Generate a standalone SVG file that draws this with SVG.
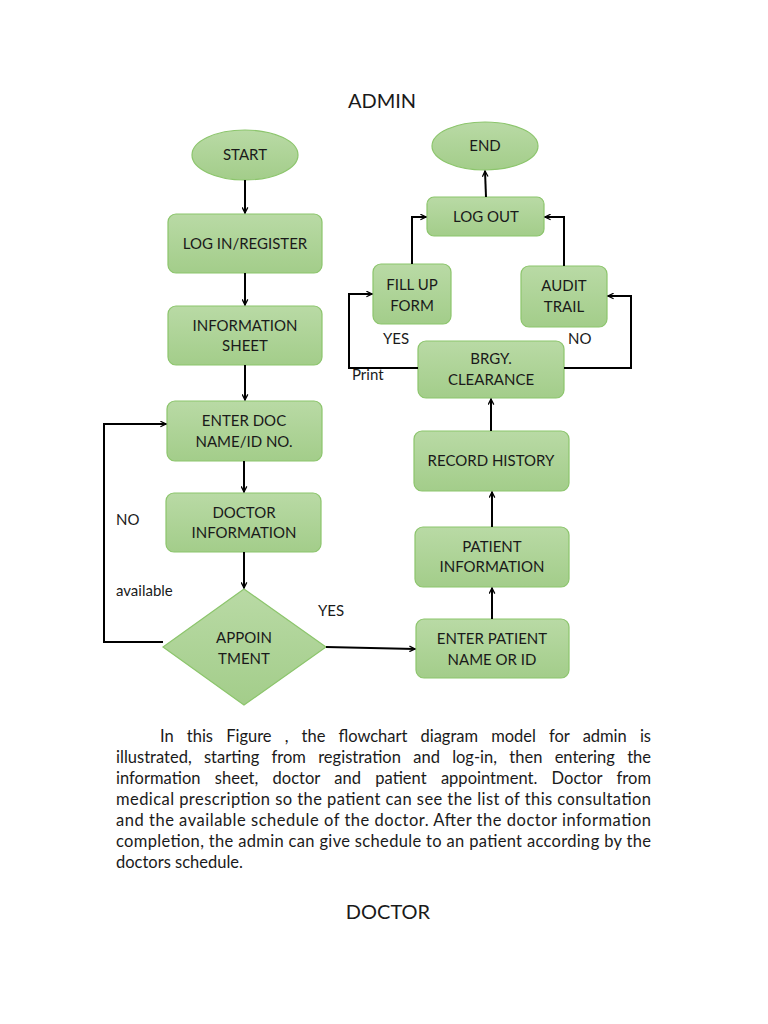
<svg xmlns="http://www.w3.org/2000/svg" width="768" height="1024" viewBox="0 0 768 1024">
<defs>
<linearGradient id="g" x1="0" y1="0" x2="0" y2="1">
<stop offset="0" stop-color="#b9daa5"/>
<stop offset="1" stop-color="#a3cd8a"/>
</linearGradient>
<marker id="ah" viewBox="0 0 10 10" refX="9" refY="5" markerWidth="7" markerHeight="7" orient="auto" markerUnits="userSpaceOnUse">
<path d="M1,1 L9,5 L1,9" fill="none" stroke="#000" stroke-width="1.8"/>
</marker>
</defs>
<style>
.n{fill:url(#g);stroke:#8cc56c;stroke-width:1.2}
.t{font-family:Lato,"Open Sans","Liberation Sans",sans-serif;font-size:15px;fill:#1a1a1a;text-anchor:middle}
.l{font-family:Lato,"Open Sans","Liberation Sans",sans-serif;font-size:15px;fill:#1a1a1a}
.c{fill:none;stroke:#000;stroke-width:2;marker-end:url(#ah)}
.p{font-family:Lato,"Open Sans","Liberation Sans",sans-serif;font-size:16.5px;fill:#1a1a1a}
.h{font-family:Lato,"Open Sans","Liberation Sans",sans-serif;font-size:20px;fill:#1a1a1a;text-anchor:middle}
</style>
<rect width="768" height="1024" fill="#fff"/>
<text class="h" x="382" y="108">ADMIN</text>

<g id="start"><ellipse class="n" cx="245" cy="155" rx="53" ry="25"/><text class="t" x="245" y="160">START</text></g>
<g id="login"><rect class="n" x="168" y="214" width="154" height="59" rx="8"/><text class="t" x="245" y="249">LOG IN/REGISTER</text></g>
<g id="infosheet"><rect class="n" x="168" y="306" width="154" height="59" rx="8"/><text class="t" x="245" y="331">INFORMATION</text><text class="t" x="245" y="351">SHEET</text></g>
<g id="enterdoc"><rect class="n" x="167" y="401" width="155" height="60" rx="8"/><text class="t" x="244" y="426">ENTER DOC</text><text class="t" x="244" y="447">NAME/ID NO.</text></g>
<g id="docinfo"><rect class="n" x="166" y="493" width="155" height="59" rx="8"/><text class="t" x="244" y="518">DOCTOR</text><text class="t" x="244" y="538">INFORMATION</text></g>
<g id="appointment"><polygon class="n" points="244,589 326,647 244,705 163,647"/><text class="t" x="244" y="643">APPOIN</text><text class="t" x="244" y="664">TMENT</text></g>
<g id="enterpatient"><rect class="n" x="416" y="619" width="153" height="59" rx="8"/><text class="t" x="492" y="644">ENTER PATIENT</text><text class="t" x="492" y="665">NAME OR ID</text></g>
<g id="patientinfo"><rect class="n" x="415" y="527" width="154" height="60" rx="8"/><text class="t" x="492" y="552">PATIENT</text><text class="t" x="492" y="572">INFORMATION</text></g>
<g id="record"><rect class="n" x="414" y="431" width="155" height="60" rx="8"/><text class="t" x="491" y="466">RECORD HISTORY</text></g>
<g id="brgy"><rect class="n" x="418" y="341" width="146" height="57" rx="8"/><text class="t" x="491" y="364">BRGY.</text><text class="t" x="491" y="385">CLEARANCE</text></g>
<g id="fillup"><rect class="n" x="373" y="264" width="78" height="60" rx="8"/><text class="t" x="412" y="290">FILL UP</text><text class="t" x="412" y="311">FORM</text></g>
<g id="audit"><rect class="n" x="521" y="266" width="86" height="61" rx="8"/><text class="t" x="564" y="291">AUDIT</text><text class="t" x="564" y="312">TRAIL</text></g>
<g id="logout"><rect class="n" x="427" y="197" width="117" height="39" rx="7"/><text class="t" x="486" y="222">LOG OUT</text></g>
<g id="end"><ellipse class="n" cx="485" cy="146" rx="53" ry="24"/><text class="t" x="485" y="151">END</text></g>

<g id="connectors">
<path class="c" d="M245,180 L245,213"/>
<path class="c" d="M245,273 L245,305"/>
<path class="c" d="M245,365 L245,400"/>
<path class="c" d="M244,461 L244,492"/>
<path class="c" d="M244,552 L244,588"/>
<path class="c" d="M163,642 L104,642 L104,424 L166,424"/>
<path class="c" d="M326,647 L415,649"/>
<path class="c" d="M492,619 L492,588"/>
<path class="c" d="M492,527 L492,492"/>
<path class="c" d="M491,431 L491,399"/>
<path class="c" d="M418,368 L349,368 L349,294 L372,294"/>
<path class="c" d="M564,368 L631,368 L631,296 L608,296"/>
<path class="c" d="M412,264 L412,217 L426,217"/>
<path class="c" d="M564,266 L564,217 L545,217"/>
<path class="c" d="M486,197 L485,171"/>
</g>

<g id="labels">
<text class="l" x="116" y="525">NO</text>
<text class="l" x="116" y="596">available</text>
<text class="l" x="318" y="616">YES</text>
<text class="l" x="383" y="344">YES</text>
<text class="l" x="568" y="344">NO</text>
<text class="l" x="352" y="380">Print</text>
</g>

<g id="paragraph">
<text class="p" x="160" y="742" word-spacing="9" textLength="491" lengthAdjust="spacing">In this Figure , the flowchart diagram model for admin is</text>
<text class="p" x="116" y="763" word-spacing="8" textLength="535" lengthAdjust="spacing">illustrated, starting from registration and log-in, then entering the</text>
<text class="p" x="116" y="784" word-spacing="10" textLength="535" lengthAdjust="spacing">information sheet, doctor and patient appointment. Doctor from</text>
<text class="p" x="116" y="805" textLength="535" lengthAdjust="spacing">medical prescription  so the patient can see the list of this consultation</text>
<text class="p" x="116" y="826" textLength="535" lengthAdjust="spacing">and the available schedule of the doctor. After the doctor information</text>
<text class="p" x="116" y="847" textLength="535" lengthAdjust="spacing">completion, the admin can give schedule to an patient according by the</text>
<text class="p" x="116" y="868">doctors schedule.</text>
</g>
<text class="h" x="388" y="919">DOCTOR</text>
</svg>
